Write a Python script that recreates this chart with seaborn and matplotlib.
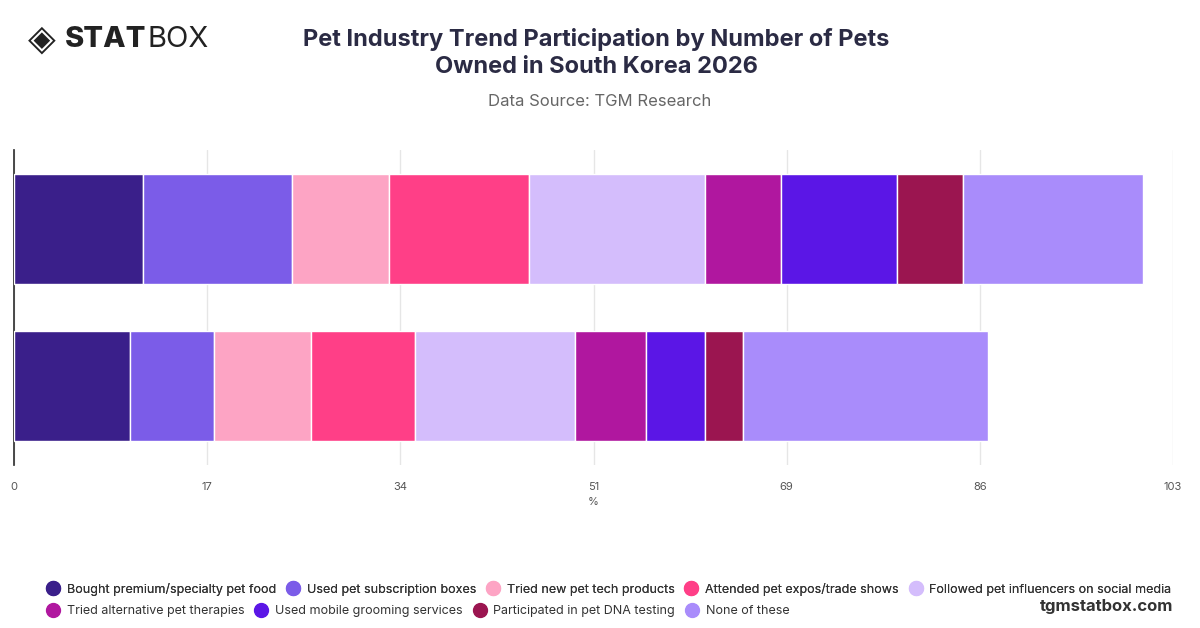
import matplotlib
matplotlib.use("Agg")
import matplotlib.pyplot as plt
import seaborn as sns
import pandas as pd
import numpy as np
from matplotlib.lines import Line2D

sns.set_theme(style="white")
plt.rcParams['font.family'] = ['Inter', 'DejaVu Sans']

groups = ["1 pet", "2+ pets"]
series = ["Bought premium/specialty pet food", "Used pet subscription boxes", "Tried new pet tech products",
          "Attended pet expos/trade shows", "Followed pet influencers on social media",
          "Tried alternative pet therapies", "Used mobile grooming services",
          "Participated in pet DNA testing", "None of these"]
values_g1 = [11.5, 13.2, 8.6, 12.5, 15.6, 6.8, 10.3, 5.8, 16.0]
values_g2 = [10.3, 7.5, 8.6, 9.2, 14.3, 6.3, 5.2, 3.4, 21.8]
colors = ["#3a1f8a", "#7b5ce8", "#fda4c4", "#ff3f87", "#d4bdfc", "#b0179f", "#5b16e6", "#9b1550", "#a98cfb"]
xmax = 103
tick_labels = ["0", "17", "34", "51", "69", "86", "103"]

fig = plt.figure(figsize=(12, 6.28), dpi=100)
ax = fig.add_axes([14/1200, 1-465/628, 1159/1200, 315/628])

df = pd.DataFrame({"group": groups * len(series),
                   "series": np.repeat(series, 2),
                   "value": [v for pair in zip(values_g1, values_g2) for v in pair]})
left = np.zeros(len(groups))
for s, c in zip(series, colors):
    vals = df[df.series == s].value.values
    ax.barh(groups, vals, left=left, color=c, height=0.7, label=s, zorder=3)
    left += vals
ax.set_xlim(0, xmax)
ax.set_ylim(1.5, -0.5)
ax.set_xticks(np.linspace(0, xmax, len(tick_labels)))
ax.set_xticklabels(tick_labels, fontsize=8, color="#555")
ax.set_yticks([])
ax.grid(axis="x", color="#e6e6e6", zorder=0)
for sp in ["top", "right", "bottom"]:
    ax.spines[sp].set_visible(False)
ax.spines["left"].set_color("#333")
ax.tick_params(axis="x", length=0, pad=12)
ax.set_xlabel("%", fontsize=8, color="#555", labelpad=4)

fig.text(0.497, 0.915, "Pet Industry Trend Participation by Number of Pets\nOwned in South Korea 2026",
         ha="center", va="center", fontsize=17, fontweight="bold", color="#2b2b44", linespacing=1.3)
fig.text(0.5, 0.838, "Data Source: TGM Research", ha="center", va="center", fontsize=12, color="#666")
fig.text(0.035, 0.937, "◈", ha="center", va="center", fontsize=26, color="#222", family=["DejaVu Sans"])
t = fig.text(0.054, 0.937, "STAT", ha="left", va="center", fontsize=21, fontweight="heavy", color="#222")
fig.canvas.draw()
bb = t.get_window_extent()
fig.text(bb.x1/1200 + 0.001, 0.937, "BOX", ha="left", va="center", fontsize=21, color="#222")
fig.text(0.978, 0.035, "tgmstatbox.com", ha="right", va="center", fontsize=12, fontweight="bold", color="#333")

hs = [Line2D([], [], marker="o", linestyle="", markersize=10, markerfacecolor=c, markeredgecolor=c) for c in colors]
kw = dict(frameon=False, fontsize=9, handletextpad=0.5, columnspacing=0.75, labelcolor="#333",
          loc="center left", borderaxespad=0, borderpad=0, handlelength=1.2)
leg1 = fig.legend(hs[:5], series[:5], ncol=5, bbox_to_anchor=(0.038, 0.062), **kw)
fig.add_artist(leg1)
fig.legend(hs[5:], series[5:], ncol=4, bbox_to_anchor=(0.038, 0.027), **kw)
fig.savefig("out.png", dpi=100)
